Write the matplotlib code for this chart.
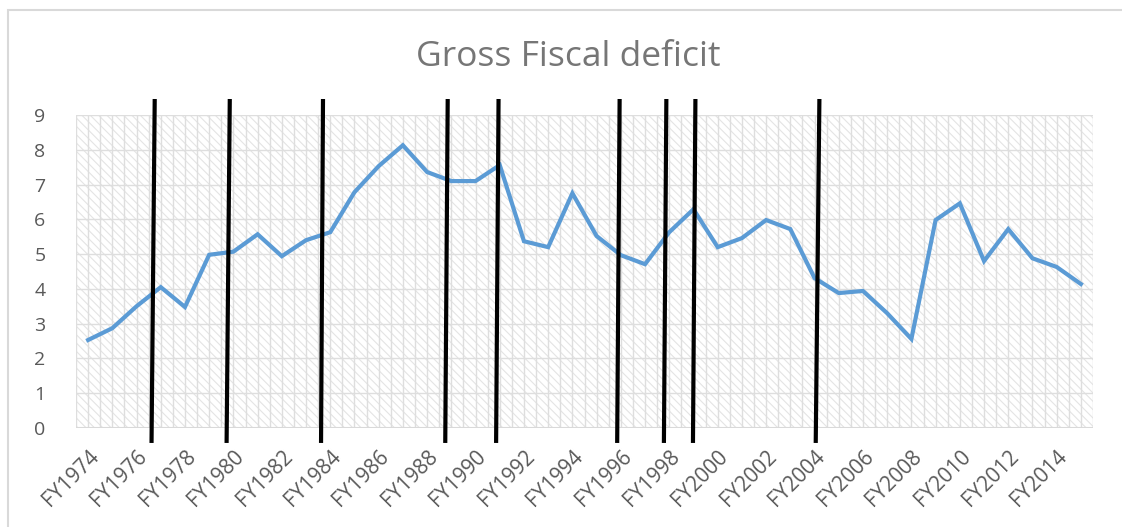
import matplotlib
matplotlib.use("Agg")
import matplotlib.pyplot as plt
from matplotlib.patches import Rectangle
import numpy as np

years = [f"FY{y}" for y in range(1974, 2016)]
deficit = [2.53, 2.87, 3.5, 4.05, 3.48, 4.98, 5.07, 5.57, 4.94, 5.4, 5.63,
           6.78, 7.53, 8.13, 7.36, 7.1, 7.1, 7.56, 5.37, 5.2, 6.75, 5.52,
           4.97, 4.71, 5.63, 6.29, 5.2, 5.46, 5.98, 5.72, 4.31, 3.88, 3.94,
           3.3, 2.56, 5.98, 6.46, 4.8, 5.72, 4.88, 4.63, 4.14]
# election markers, in category-index units (bottom end, top end)
marker_bottom = [2.62, 5.72, 9.62, 14.75, 16.85, 21.85, 23.78, 24.98, 30.05]
marker_top = [2.75, 5.85, 9.7, 14.85, 16.95, 21.95, 23.88, 25.08, 30.2]
yticks = list(range(0, 10))

plt.rcParams['hatch.linewidth'] = 0.8
fig = plt.figure(figsize=(11.22, 5.27), dpi=100)
ax = fig.add_axes([76/1122, 1-428/527, (1093-76)/1122, (428-115)/527])

n = len(years)
x = np.arange(n)
ax.set_xlim(-0.5, n-0.5)
ax.set_ylim(0, 9)

grid_c = "#dedede"
ax.add_patch(Rectangle((0, 0), 1, 1, transform=ax.transAxes, facecolor="white",
                       edgecolor="#e4e4e4", hatch="\\\\\\\\", linewidth=0, zorder=0))
for xv in np.arange(-0.5, n, 0.5):
    ax.axvline(xv, color=grid_c, lw=1.0, zorder=1)
for yv in yticks:
    ax.axhline(yv, color=grid_c, lw=1.0, zorder=1)

ax.plot(x, deficit, color="#5b9bd5", lw=3.0, solid_joinstyle="miter", zorder=3)

for b, t in zip(marker_bottom, marker_top):
    ax.plot([b, t], [-0.37, 9.4], color="black", lw=3.0, clip_on=False, zorder=4)

for s in ax.spines.values():
    s.set_visible(False)
ax.axhline(0, color="#d9d9d9", lw=1.5, zorder=2)

ax.set_yticks(yticks)
ax.set_yticklabels([str(v) for v in yticks])
ax.set_xticks(x[::2])
ax.set_xticklabels(years[::2], rotation=45, ha="right", rotation_mode="anchor")
ax.tick_params(axis="both", length=0, colors="#595959")
ax.tick_params(axis="y", pad=22, labelsize=14)
ax.tick_params(axis="x", pad=13, labelsize=15)
for lab in ax.get_xticklabels() + ax.get_yticklabels():
    lab.set_fontfamily("Open Sans")

fig.text(568/1122, 1-57/527, "Gross Fiscal deficit", ha="center", va="center",
         fontsize=25.5, color="#767676", fontfamily="Open Sans")

fig.add_artist(Rectangle((8/1122, -0.1), 1.2, 1-10/527+0.1, transform=fig.transFigure,
                         facecolor="none", edgecolor="#d9d9d9", lw=1.5))

fig.savefig("out.png", dpi=100)
